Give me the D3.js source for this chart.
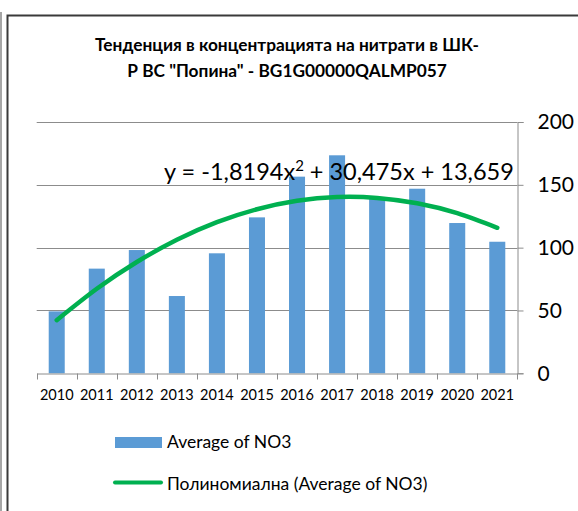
<!DOCTYPE html>
<html>
<head>
<meta charset="utf-8">
<script src="https://cdn.jsdelivr.net/npm/d3@7"></script>
<style>
    body { margin: 0; background: #fff; }
    svg text { font-family: Lato, Carlito, "Liberation Sans", sans-serif; fill: #000; }
</style>
</head>
<body>
<div id="chart"></div>
<script>
var years = ["2010", "2011", "2012", "2013", "2014", "2015", "2016", "2017", "2018", "2019", "2020", "2021"];
var no3Values = [49.3, 83.3, 98.1, 61.5, 95.5, 124.1, 156.5, 173.5, 140.1, 146.9, 119.6, 104.7];
// trend line (polynomial order 2)
var trendValues = [42.3, 67.3, 88.6, 106.3, 120.3, 130.6, 137.3, 140.3, 139.6, 135.3, 127.4, 115.8];
var yTicks = [0, 50, 100, 150, 200];
var titleLines = ["Тенденция в концентрацията на нитрати в ШК-", "Р ВС \"Попина\" - BG1G00000QALMP057"];
var equationText = ["y = -1,8194x", "2", " + 30,475x + 13,659"];
var legendLabels = ["Average of NO3", "Полиномиална (Average of NO3)"];

function makeChart() {
    let width = 578;
    let height = 511;
    let left = 36.7, right = 517.3, top = 122, bottom = 373.3;

    var svg = d3.select("#chart")
        .append("svg")
        .attr("width", width)
        .attr("height", height);

    // frame
    svg.append("line").attr("x1", 1).attr("x2", 1).attr("y1", 12).attr("y2", height)
        .attr("stroke", "#a6a6a6").attr("stroke-width", 2);
    svg.append("path")
        .attr("d", "M7.5," + height + "V15.5H" + width)
        .attr("fill", "none").attr("stroke", "#3a3a3a").attr("stroke-width", 2);

    var xScale = d3.scaleBand()
        .domain(years)
        .range([left, right])
        .paddingInner(0.6)
        .paddingOuter(0.3);

    var yScale = d3.scaleLinear()
        .domain([0, 200])
        .range([bottom, top]);

    var step = xScale.step();

    // gridlines
    svg.selectAll(".grid")
        .data(yTicks.slice(1))
        .enter()
        .append("line")
        .attr("class", "grid")
        .attr("x1", left)
        .attr("x2", right)
        .attr("y1", function (d) { return Math.round(yScale(d)) + 0.5; })
        .attr("y2", function (d) { return Math.round(yScale(d)) + 0.5; })
        .attr("stroke", "#8c8c8c")
        .attr("stroke-width", 1);

    // bars
    svg.selectAll(".bar")
        .data(no3Values)
        .enter()
        .append("rect")
        .attr("class", "bar")
        .attr("x", function (d, i) { return xScale(years[i]); })
        .attr("width", xScale.bandwidth())
        .attr("y", function (d) { return yScale(d); })
        .attr("height", function (d) { return yScale(0) - yScale(d); })
        .attr("fill", "#5b9bd5");

    // x axis
    let xAxis = d3.axisBottom(xScale).tickSize(0).tickPadding(16);
    var gx = svg.append("g")
        .attr("transform", "translate(0," + (Math.round(bottom) + 0.5) + ")")
        .call(xAxis);
    gx.select(".domain").attr("stroke", "#8c8c8c");
    gx.selectAll("text").style("font-size", "14.5px");
    gx.selectAll(".bound")
        .data(years.concat(["end"]))
        .enter()
        .append("line")
        .attr("class", "bound")
        .attr("x1", function (d, i) { return Math.round(left + i * step) + 0.5; })
        .attr("x2", function (d, i) { return Math.round(left + i * step) + 0.5; })
        .attr("y1", 0)
        .attr("y2", 6)
        .attr("stroke", "#8c8c8c");

    // right axis
    let yAxis = d3.axisRight(yScale).tickValues(yTicks).tickSize(6).tickPadding(14);
    var gy = svg.append("g")
        .attr("transform", "translate(" + (Math.round(right) + 0.5) + ",0)")
        .call(yAxis);
    gy.select(".domain").attr("stroke", "#8c8c8c");
    gy.selectAll(".tick line").attr("stroke", "#8c8c8c");
    gy.selectAll("text").style("font-size", "21px");

    // trend line
    var line = d3.line()
        .x(function (d, i) { return xScale(years[i]) + xScale.bandwidth() / 2; })
        .y(function (d) { return yScale(d); })
        .curve(d3.curveNatural);

    svg.append("path")
        .datum(trendValues)
        .attr("d", line)
        .attr("fill", "none")
        .attr("stroke", "#00b050")
        .attr("stroke-width", 4.5)
        .attr("stroke-linecap", "round");

    // equation label
    var eq = svg.append("text")
        .attr("x", 164)
        .attr("y", 180)
        .style("font-size", "23.5px");
    eq.append("tspan").text(equationText[0]);
    eq.append("tspan").attr("dy", -9).style("font-size", "15px").text(equationText[1]);
    eq.append("tspan").attr("dy", 9).text(equationText[2]);

    // title
    svg.selectAll(".title")
        .data(titleLines)
        .enter()
        .append("text")
        .attr("class", "title")
        .attr("x", 287)
        .attr("y", function (d, i) { return 51 + i * 26; })
        .style("text-anchor", "middle")
        .style("font-size", "17.3px")
        .style("font-weight", "bold")
        .text(function (d) { return d; });

    // legend
    svg.append("rect")
        .attr("x", 115).attr("y", 437).attr("width", 47).attr("height", 11)
        .attr("fill", "#5b9bd5");
    svg.append("line")
        .attr("x1", 115).attr("x2", 161).attr("y1", 482.5).attr("y2", 482.5)
        .attr("stroke", "#00b050").attr("stroke-width", 4).attr("stroke-linecap", "round");
    svg.selectAll(".legend")
        .data(legendLabels)
        .enter()
        .append("text")
        .attr("class", "legend")
        .attr("x", 167)
        .attr("y", function (d, i) { return 448 + i * 42; })
        .style("font-size", "17.5px")
        .text(function (d) { return d; });
}

makeChart();
</script>
</body>
</html>
